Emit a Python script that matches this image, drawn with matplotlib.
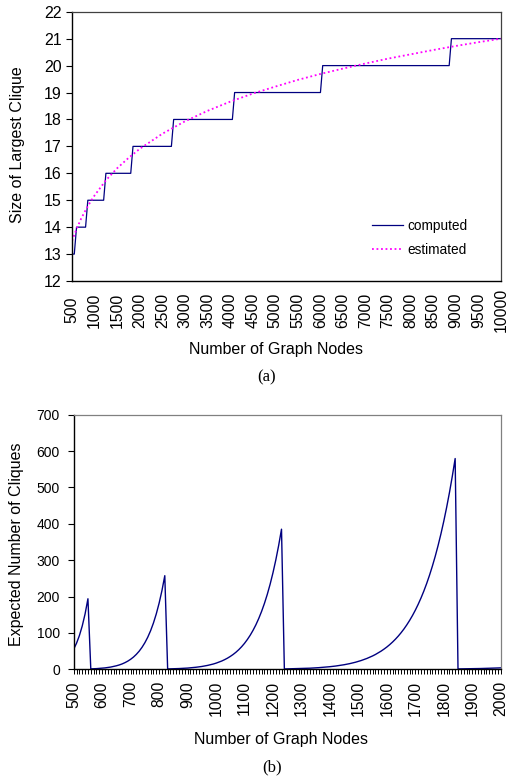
import matplotlib
matplotlib.use('Agg')
import matplotlib.pyplot as plt

plt.rcParams['font.family'] = ['Liberation Sans', 'DejaVu Sans']

# --- (a) size of largest clique ---
computed_nodes = [500, 550, 600, 800, 850, 1200, 1250, 1800, 1850, 2700, 2750,
                  4050, 4100, 6000, 6050, 8850, 8900, 10000]
computed_size = [13, 13, 14, 14, 15, 15, 16, 16, 17, 17, 18,
                 18, 19, 19, 20, 20, 21, 21]

estimated_nodes = [500, 600, 700, 800, 900, 1000, 1250, 1500, 1750, 2000, 2500,
                   3000, 3500, 4000, 4500, 5000, 5500, 6000, 6500, 7000, 7500,
                   8000, 8500, 9000, 9500, 10000]
estimated_size = [13.49, 13.93, 14.31, 14.63, 14.92, 15.18, 15.74, 16.19, 16.57,
                  16.91, 17.47, 17.93, 18.32, 18.66, 18.96, 19.22, 19.47, 19.69,
                  19.89, 20.08, 20.26, 20.42, 20.58, 20.73, 20.87, 21.00]

top_xticks = list(range(500, 10001, 500))
top_yticks = list(range(12, 23))

# --- (b) expected number of cliques, one value per 10 nodes ---
bottom_nodes = list(range(500, 2001, 10))
expected_cliques = [
    55.4, 71.9, 92.8, 119.2, 152.4, 194.0,
    1.2, 1.5, 1.9, 2.5, 3.1, 3.9, 5.0, 6.2, 7.8, 9.7, 12.0, 14.8, 18.3, 22.5,
    27.6, 33.7, 41.1, 49.9, 60.5, 73.1, 88.1, 105.9, 127.1, 152.2, 181.8,
    216.5, 257.5,
    1.0, 1.2, 1.5, 1.7, 2.1, 2.5, 2.9, 3.4, 4.1, 4.8, 5.7, 6.6, 7.8, 9.1,
    10.7, 12.5, 14.5, 16.9, 19.7, 22.8, 26.5, 30.6, 35.4, 40.8, 47.0, 54.1,
    62.2, 71.4, 81.9, 93.7, 107.2, 122.4, 139.7, 159.2, 181.2, 206.0, 234.0,
    265.5, 300.8, 340.7, 385.3,
    1.0, 1.2, 1.3, 1.5, 1.7, 1.9, 2.2, 2.5, 2.8, 3.1, 3.5, 4.0, 4.5, 5.1,
    5.7, 6.4, 7.2, 8.0, 9.0, 10.1, 11.3, 12.6, 14.1, 15.7, 17.5, 19.5, 21.7,
    24.2, 26.9, 29.9, 33.2, 36.8, 40.8, 45.3, 50.1, 55.5, 61.3, 67.8, 74.9,
    82.7, 91.2, 100.6, 110.8, 122.1, 134.4, 147.8, 162.5, 178.6, 196.1,
    215.2, 236.1, 258.9, 283.8, 310.8, 340.3, 372.3, 407.1, 445.0, 486.2,
    531.0, 579.6,
    1.1, 1.2, 1.3, 1.4, 1.5, 1.7, 1.8, 2.0, 2.2, 2.4, 2.6, 2.8, 3.1, 3.4,
    3.7, 4.0,
]
bottom_yticks = list(range(0, 701, 100))

navy = '#000080'

fig = plt.figure(figsize=(5.09, 7.78), dpi=100)

# top panel
ax1 = fig.add_axes([0.1415, 0.6388, 0.843, 0.3461])
ax1.plot(computed_nodes, computed_size, color=navy, lw=0.9, label='computed')
ax1.plot(estimated_nodes, estimated_size, color='#FF00FF', lw=1.3,
         linestyle=(0, (1, 1.5)), label='estimated')
ax1.set_xlim(500, 10000)
ax1.set_ylim(12, 22)
ax1.set_xticks(top_xticks)
ax1.set_xticklabels([str(v) for v in top_xticks], rotation=90, va='center')
ax1.set_yticks(top_yticks)
ax1.tick_params(axis='x', length=0, pad=21, labelsize=11.3)
ax1.tick_params(axis='y', length=4, width=0.8, pad=3.5, labelsize=11.5)
for side in ['left', 'bottom']:
    ax1.spines[side].set_color('black')
    ax1.spines[side].set_linewidth(1.0)
for side in ['top', 'right']:
    ax1.spines[side].set_color('#404040')
    ax1.spines[side].set_linewidth(0.9)
ax1.set_ylabel('Size of Largest Clique', fontsize=11.5, va='center')
ax1.yaxis.set_label_coords(-0.128, 0.507)
ax1.set_xlabel('Number of Graph Nodes', fontsize=11.5, va='center')
ax1.xaxis.set_label_coords(0.475, -0.256)
ax1.legend(loc='upper left', bbox_to_anchor=(0.699, 0.232), frameon=False,
           fontsize=9.8, handlelength=2.3, handletextpad=0.3,
           labelspacing=0.75, borderpad=0, borderaxespad=0)

# bottom panel
ax2 = fig.add_axes([0.1448, 0.1397, 0.8389, 0.3272])
ax2.plot(bottom_nodes, expected_cliques, color=navy, lw=1.0)
ax2.set_xlim(500, 2000)
ax2.set_ylim(0, 700)
ax2.set_xticks(bottom_nodes)
ax2.set_xticklabels([str(v) if v % 100 == 0 else '' for v in bottom_nodes],
                    rotation=90, va='top')
ax2.set_yticks(bottom_yticks)
ax2.tick_params(axis='x', length=3.5, width=0.7, pad=5, labelsize=11.3)
ax2.tick_params(axis='y', length=4, width=0.8, pad=6, labelsize=10)
for side in ['left', 'bottom']:
    ax2.spines[side].set_color('black')
    ax2.spines[side].set_linewidth(1.0)
for side in ['top', 'right']:
    ax2.spines[side].set_color('#808080')
    ax2.spines[side].set_linewidth(0.9)
ax2.set_ylabel('Expected Number of Cliques', fontsize=11.5, va='center')
ax2.yaxis.set_label_coords(-0.133, 0.492)
ax2.set_xlabel('Number of Graph Nodes', fontsize=11.5, va='center')
ax2.xaxis.set_label_coords(0.4855, -0.274)

fig.text(267 / 509, 1 - 377 / 778, '(a)', ha='center', va='center',
         fontsize=12, family='Liberation Serif')
fig.text(272 / 509, 1 - 767 / 778, '(b)', ha='center', va='center',
         fontsize=12, family='Liberation Serif')

fig.savefig('out.png', dpi=100)
